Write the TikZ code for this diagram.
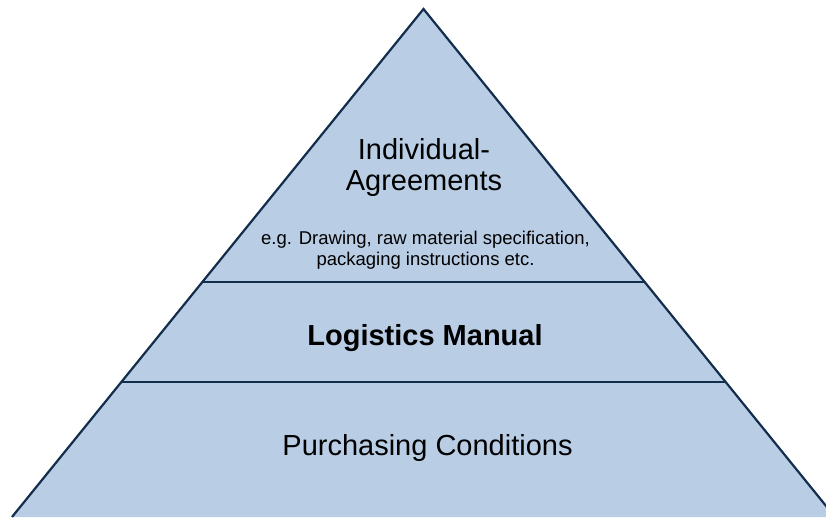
\documentclass[tikz,border=0pt]{standalone}
\usepackage{fontspec}
\setmainfont{Liberation Sans}
\usepackage{tikz}
\usetikzlibrary{positioning,calc}
\usepackage{tkz-euclide}
\definecolor{pyrfill}{HTML}{B9CDE5}
\definecolor{pyrline}{HTML}{132D4C}

\begin{document}
\begin{tikzpicture}[x=1pt,y=1pt,
    bigtext/.style={inner sep=0pt, align=center, font=\fontsize{29}{31}\selectfont},
    smalltext/.style={inner sep=0pt, align=center, font=\fontsize{18.5}{20.5}\selectfont}]
    \path[use as bounding box] (0,0) rectangle (826,517);
    \clip (0,0) rectangle (826,517);
    \tkzDefPoint(12,0){L}
    \tkzDefPoint(423.5,508){T}
    \tkzDefPoint(835,0){R}
    \coordinate (UL) at ($(L)!235/508!(T)$);
    \coordinate (UR) at ($(R)!235/508!(T)$);
    \coordinate (ML) at ($(L)!135/508!(T)$);
    \coordinate (MR) at ($(R)!135/508!(T)$);
    \tkzFillPolygon[fill=pyrfill](L,T,R)
    \tkzDrawSegments[draw=pyrline, line width=2.2pt](UL,UR ML,MR)
    \draw[pyrline, line width=2.2pt] (L) -- (T) -- (R);

    \node[bigtext] (agreements) at (424,349) {Individual-\\Agreements};
    \node[smalltext] (examples) at (425.5,267) {e.g. Drawing, raw material specification,\\packaging instructions etc.};
    \node[bigtext, anchor=base, font=\fontsize{29}{31}\selectfont\bfseries] (manual) at (425,172) {Logistics Manual};
    \node[bigtext, anchor=base] (conditions) at (427.5,62) {Purchasing Conditions};
    \end{tikzpicture}
\end{document}
